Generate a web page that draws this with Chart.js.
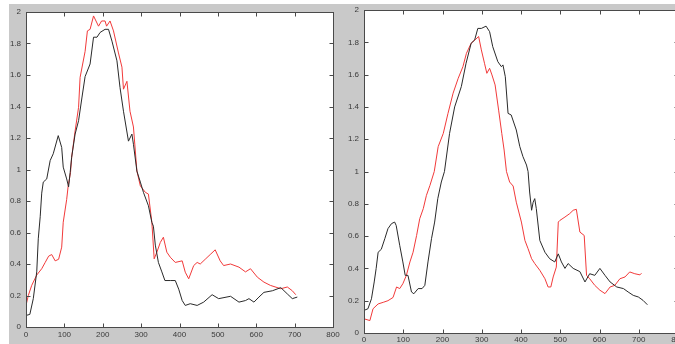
<!DOCTYPE html>
<html>
<head>
<meta charset="utf-8">
<script src="https://cdn.jsdelivr.net/npm/chart.js@4/dist/chart.umd.min.js"></script>
<style>
    html, body { margin: 0; padding: 0; background: #fff; overflow: hidden; width: 675px; height: 344px; }
    #panel { position: absolute; left: 9px; top: 4px; width: 666px; height: 340px; background: #c9c9c9; }
    canvas { position: absolute; top: 0; }
    #leftChart { left: 0; }
    #rightChart { left: 340px; }
</style>
</head>
<body>
<div id="panel"></div>
<canvas id="leftChart" width="340" height="344"></canvas>
<canvas id="rightChart" width="340" height="344"></canvas>
<script>
// ========================================
// DATA  ([x, y])
// ========================================

const xTicks = [0, 100, 200, 300, 400, 500, 600, 700, 800];
const yTicks = [0, 0.2, 0.4, 0.6, 0.8, 1, 1.2, 1.4, 1.6, 1.8, 2];

const leftBlack = [
    [1,0.074],[10,0.08],[19,0.18],[28,0.35],[32,0.56],[37,0.70],[41,0.85],[45,0.92],[54,0.94],[63,1.057],
    [71,1.10],[84,1.215],[93,1.14],[97,1.015],[106,0.94],[111,0.89],[115,0.98],[119,1.078],[128,1.225],[137,1.31],
    [146,1.46],[154,1.59],[167,1.67],[176,1.84],[185,1.84],[193,1.87],[206,1.89],[215,1.89],[224,1.815],[237,1.69],
    [245,1.52],[254,1.37],[267,1.18],[276,1.225],[280,1.16],[289,0.99],[298,0.92],[306,0.855],[319,0.77],[328,0.664],
    [332,0.64],[337,0.52],[345,0.41],[354,0.35],[362,0.295],[376,0.295],[389,0.295],[398,0.24],[407,0.168],[415,0.137],
    [428,0.148],[446,0.137],[463,0.158],[485,0.205],[502,0.18],[533,0.195],[555,0.158],[572,0.168],[581,0.18],[594,0.158],
    [607,0.19],[620,0.22],[642,0.23],[664,0.25],[681,0.21],[694,0.18],[707,0.19]
];

const leftRed = [
    [0,0.137],[6,0.2],[15,0.265],[28,0.33],[41,0.37],[50,0.41],[59,0.45],[67,0.46],[76,0.42],[85,0.43],
    [93,0.507],[97,0.665],[106,0.81],[110,0.897],[116,0.98],[119,1.078],[128,1.245],[137,1.395],[141,1.585],[154,1.75],
    [160,1.88],[167,1.89],[176,1.975],[189,1.91],[197,1.943],[206,1.943],[210,1.91],[219,1.943],[228,1.88],[241,1.74],
    [250,1.65],[254,1.51],[263,1.56],[271,1.37],[280,1.27],[289,0.99],[298,0.896],[311,0.855],[319,0.844],[328,0.664],
    [334,0.433],[341,0.475],[350,0.537],[358,0.57],[367,0.475],[376,0.443],[389,0.41],[407,0.42],[415,0.348],[424,0.306],
    [437,0.39],[446,0.41],[454,0.40],[467,0.43],[480,0.46],[493,0.49],[506,0.42],[515,0.39],[533,0.40],[555,0.38],
    [572,0.35],[585,0.37],[603,0.316],[620,0.285],[637,0.264],[664,0.243],[681,0.254],[694,0.23],[703,0.205]
];

const rightBlack = [
    [0,0.14],[10,0.15],[19,0.212],[26,0.316],[31,0.40],[36,0.50],[44,0.518],[53,0.584],[61,0.646],[70,0.677],
    [78,0.687],[82,0.666],[91,0.543],[99,0.44],[105,0.357],[112,0.357],[121,0.254],[127,0.243],[138,0.275],[148,0.275],
    [155,0.295],[163,0.44],[172,0.584],[180,0.687],[188,0.832],[197,0.935],[205,1.0],[218,1.236],[231,1.40],[248,1.526],
    [260,1.67],[273,1.794],[282,1.815],[290,1.886],[299,1.886],[311,1.9],[320,1.866],[328,1.773],[341,1.68],[350,1.649],
    [354,1.66],[360,1.587],[367,1.36],[375,1.35],[388,1.257],[397,1.154],[405,1.092],[414,1.04],[418,1.0],[422,0.873],
    [427,0.76],[431,0.81],[435,0.832],[439,0.77],[448,0.573],[461,0.50],[473,0.46],[486,0.44],[495,0.49],[503,0.44],
    [512,0.40],[520,0.43],[533,0.40],[550,0.38],[563,0.316],[575,0.367],[588,0.357],[601,0.40],[614,0.357],[627,0.316],
    [644,0.285],[661,0.275],[673,0.254],[686,0.233],[699,0.223],[711,0.202],[722,0.175]
];

const rightRed = [
    [0,0.088],[15,0.077],[23,0.15],[36,0.18],[49,0.19],[61,0.2],[74,0.22],[83,0.285],[91,0.275],[99,0.305],
    [108,0.357],[117,0.44],[125,0.50],[134,0.604],[142,0.708],[151,0.77],[159,0.852],[168,0.914],[179,1.0],[189,1.154],
    [202,1.236],[214,1.36],[227,1.485],[240,1.577],[252,1.649],[261,1.732],[273,1.794],[283,1.815],[292,1.836],[299,1.753],
    [307,1.67],[313,1.608],[320,1.639],[326,1.598],[334,1.536],[343,1.38],[351,1.236],[357,1.133],[363,1.0],[371,0.935],
    [380,0.91],[388,0.81],[401,0.687],[410,0.573],[418,0.522],[427,0.46],[435,0.43],[448,0.388],[461,0.336],[469,0.285],
    [476,0.285],[482,0.347],[490,0.408],[495,0.687],[499,0.697],[512,0.718],[524,0.739],[533,0.76],[541,0.766],[550,0.625],
    [561,0.604],[567,0.357],[575,0.336],[588,0.295],[601,0.265],[614,0.244],[627,0.285],[639,0.295],[652,0.336],[665,0.347],
    [677,0.378],[690,0.367],[703,0.36],[707,0.37]
];

// ========================================
// STYLE
// ========================================

const AXIS_COLOR = '#4a4a4a';
const LABEL_COLOR = '#3a3a3a';
const BLACK_LINE = '#2a2a2a';
const RED_LINE = '#f23a3a';

// MATLAB-style white axes box with inward tick marks on all four sides
const boxTicksPlugin = {
    id: 'boxTicks',
    beforeDatasetsDraw(chart) {
        const { ctx, chartArea: a } = chart;
        ctx.save();
        ctx.fillStyle = '#ffffff';
        ctx.fillRect(a.left, a.top, a.right - a.left, a.bottom - a.top);
        ctx.restore();
    },
    afterDraw(chart) {
        const { ctx, chartArea: a, scales: { x, y } } = chart;
        const L = Math.round(a.left) + 0.5, R = Math.round(a.right) + 0.5;
        const T = Math.round(a.top) + 0.5, B = Math.round(a.bottom) + 0.5;
        ctx.save();
        ctx.strokeStyle = AXIS_COLOR;
        ctx.lineWidth = 1;
        ctx.strokeRect(L, T, R - L, B - T);
        ctx.beginPath();
        x.ticks.forEach(t => {
            const px = Math.round(x.getPixelForValue(t.value)) + 0.5;
            ctx.moveTo(px, B); ctx.lineTo(px, B - 4);
            ctx.moveTo(px, T); ctx.lineTo(px, T + 4);
        });
        y.ticks.forEach(t => {
            const py = Math.round(y.getPixelForValue(t.value)) + 0.5;
            ctx.moveTo(L, py); ctx.lineTo(L + 4, py);
            ctx.moveTo(R, py); ctx.lineTo(R - 4, py);
        });
        ctx.stroke();
        ctx.restore();
    }
};

function toPoints(pairs) {
    return pairs.map(p => ({ x: p[0], y: p[1] }));
}

function makeChart(canvas, black, red, box) {
    const font = { family: 'Liberation Sans, Arial, sans-serif', size: 8 };
    return new Chart(canvas.getContext('2d'), {
        type: 'line',
        data: {
            datasets: [
                { data: toPoints(black), borderColor: BLACK_LINE, borderWidth: 1, pointRadius: 0, tension: 0 },
                { data: toPoints(red), borderColor: RED_LINE, borderWidth: 1, pointRadius: 0, tension: 0 }
            ]
        },
        options: {
            responsive: false,
            animation: false,
            layout: { padding: { left: 0, right: box.padRight, top: box.padTop, bottom: 0 } },
            plugins: { legend: { display: false }, tooltip: { enabled: false } },
            scales: {
                x: {
                    type: 'linear',
                    min: xTicks[0],
                    max: xTicks[xTicks.length - 1],
                    grid: { display: false, drawTicks: false },
                    border: { display: false },
                    afterBuildTicks: s => { s.ticks = xTicks.map(v => ({ value: v })); },
                    afterFit: s => { s.height = box.xHeight; s.paddingLeft = 0; s.paddingRight = 0; },
                    ticks: { color: LABEL_COLOR, font, padding: box.xPad, maxRotation: 0, autoSkip: false,
                        callback: v => String(v) }
                },
                y: {
                    type: 'linear',
                    min: yTicks[0],
                    max: yTicks[yTicks.length - 1],
                    grid: { display: false, drawTicks: false },
                    border: { display: false },
                    afterBuildTicks: s => { s.ticks = yTicks.map(v => ({ value: v })); },
                    afterFit: s => { s.width = box.yWidth; s.paddingTop = 0; s.paddingBottom = 0; },
                    ticks: { color: LABEL_COLOR, font, padding: 5, autoSkip: false,
                        callback: v => String(Math.round(v * 10) / 10) }
                }
            }
        },
        plugins: [boxTicksPlugin]
    });
}

document.addEventListener('DOMContentLoaded', () => {
    makeChart(document.getElementById('leftChart'), leftBlack, leftRed,
        { yWidth: 26, xHeight: 17, padTop: 12, padRight: 7, xPad: 3 });
    makeChart(document.getElementById('rightChart'), rightBlack, rightRed,
        { yWidth: 24, xHeight: 11, padTop: 10, padRight: 2, xPad: 2 });
});
</script>
</body>
</html>
